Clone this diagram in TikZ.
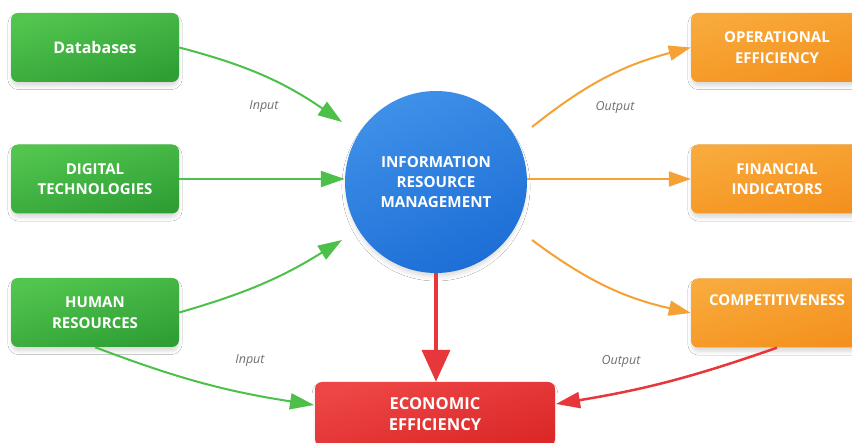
\documentclass[tikz,border=0pt]{standalone}
\usepackage{fontspec}
\setmainfont{Open Sans}
\usetikzlibrary{arrows.meta,shadows.blur}

% 配色
\definecolor{greenA}{HTML}{52C54E}
\definecolor{greenB}{HTML}{2F9F35}
\definecolor{orangeA}{HTML}{F8AA3C}
\definecolor{orangeB}{HTML}{F4911E}
\definecolor{redA}{HTML}{EE4646}
\definecolor{redB}{HTML}{DC2828}
\definecolor{blueA}{HTML}{3E90E8}
\definecolor{blueB}{HTML}{1D6ED6}
\definecolor{lineGreen}{HTML}{4DC049}
\definecolor{lineOrange}{HTML}{F6A133}
\definecolor{lineRed}{HTML}{E8373A}
\definecolor{lblGray}{HTML}{707070}

\tikzset{
  box/.style={rounded corners=7pt, minimum width=168pt, minimum height=69pt,
    align=center, text=white, inner sep=0pt,
    font=\bfseries\fontsize{15}{20.5}\selectfont,
    blur shadow={shadow xshift=0pt, shadow yshift=-4pt, shadow scale=0.99,
      shadow blur steps=8, shadow blur radius=4pt, shadow opacity=16}},
  inbox/.style={box, top color=greenA, bottom color=greenB, shading angle=15},
  outbox/.style={box, minimum width=172pt, top color=orangeA, bottom color=orangeB, shading angle=15},
  ecobox/.style={box, minimum width=240pt, minimum height=64pt,
    font=\bfseries\fontsize{16.5}{20.5}\selectfont,
    top color=redA, bottom color=redB, shading angle=15},
  hub/.style={circle, minimum size=182pt, inner sep=0pt, align=center, text=white,
    font=\bfseries\fontsize{15.2}{20}\selectfont,
    top color=blueA, bottom color=blueB, shading angle=25,
    blur shadow={shadow xshift=0pt, shadow yshift=-5pt, shadow scale=0.98,
      shadow blur steps=8, shadow blur radius=5pt, shadow opacity=16}},
  inarrow/.style={draw=lineGreen, line width=2pt, -{Triangle[length=24pt,width=16pt]}},
  outarrow/.style={draw=lineOrange, line width=2pt, -{Triangle[length=22pt,width=15pt]}},
  ecoarrow/.style={draw=lineRed, line width=2.5pt, -{Triangle[length=24pt,width=16pt]}},
  bigarrow/.style={draw=lineRed, line width=4pt, -{Triangle[length=32pt,width=28pt]}},
  lbl/.style={font=\itshape\fontsize{12.5}{13}\selectfont, text=lblGray},
}

\begin{document}
\begin{tikzpicture}[x=1pt, y=-1pt]

  % 画布
  \path[use as bounding box, clip] (0,0) rectangle (852,443);
  \fill[white] (0,0) rectangle (852,443);

  % 左侧输入方框
  \node[inbox] (db)   at (95,47.5)  {\fontsize{16}{20}\selectfont Databases};
  \node[inbox] (digi) at (95,179)   {DIGITAL\\TECHNOLOGIES};
  \node[inbox] (hr)   at (95,312.5) {HUMAN\\RESOURCES};

  % 中心圆
  \node[hub] (irm) at (436,182) {INFORMATION\\RESOURCE\\MANAGEMENT};

  % 右侧输出方框
  \node[outbox] (ope)  at (777,47.5) {OPERATIONAL\\EFFICIENCY};
  \node[outbox] (fin)  at (777,179)  {FINANCIAL\\INDICATORS};
  \node[outbox] (comp) at (777,313)  {COMPETITIVENESS\\\strut};

  % 底部结果方框
  \node[ecobox] (eco) at (435,414) {ECONOMIC\\EFFICIENCY};

  % 箭头端点
  \coordinate (in1)  at (342,122);
  \coordinate (in3)  at (342,240);
  \coordinate (out1) at (532,127);
  \coordinate (out3) at (532,240);
  \coordinate (ecoL) at (314,405);
  \coordinate (ecoR) at (556,404);

  % 输入箭头
  \draw[inarrow] (db.east) to[bend left=10] (in1);
  \draw[inarrow] (digi.east) -- (digi.east -| irm.west);
  \draw[inarrow] (hr.east) to[bend right=8] (in3);
  \draw[inarrow] (hr.south) to[bend right=6] (ecoL);

  % 输出箭头
  \draw[outarrow] (out1) to[bend left=12] (ope.west);
  \draw[outarrow] (irm.east |- fin.west) -- (fin.west);
  \draw[outarrow] (out3) to[bend right=12] (comp.west);
  \draw[ecoarrow] (comp.south) to[bend left=5] (ecoR);

  % 中心到底部
  \draw[bigarrow] (irm.south) -- (irm.south |- eco.north);

  % 标签
  \node[lbl] (lin1)  at (264,107) {Input};
  \node[lbl] (lout1) at (615,107) {Output};
  \node[lbl] (lin2)  at (250,361) {Input};
  \node[lbl] (lout2) at (621,361) {Output};

\end{tikzpicture}
\end{document}
